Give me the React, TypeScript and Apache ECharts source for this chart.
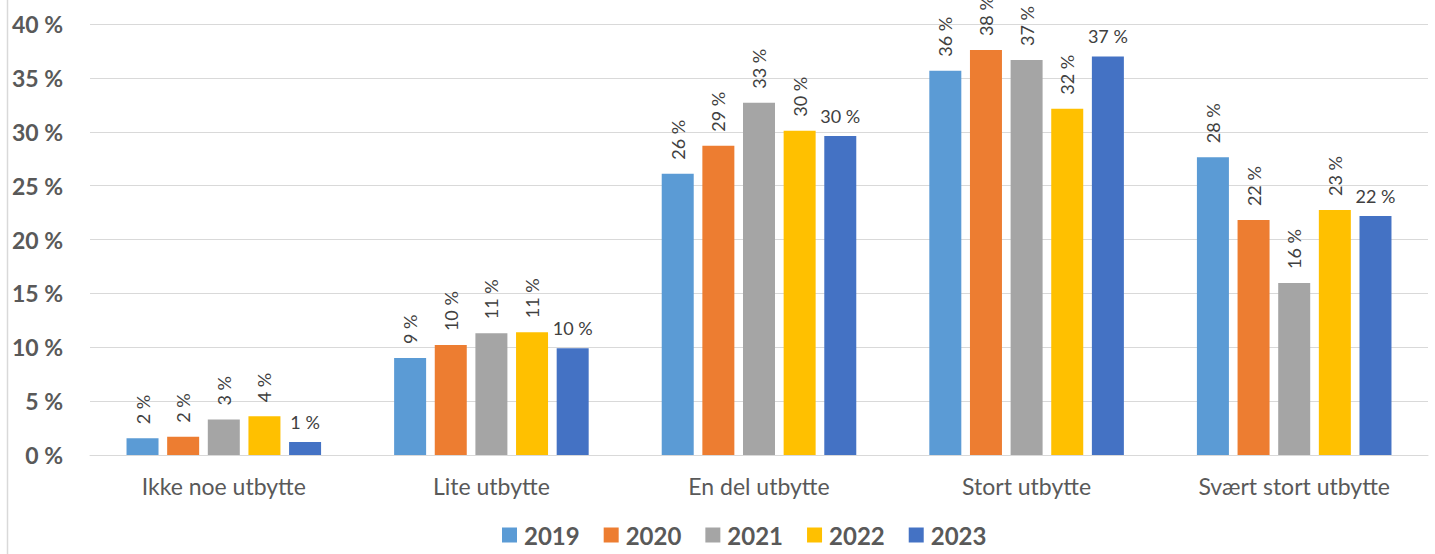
import React, { useEffect, useRef } from "react";
import * as echarts from "echarts";

const categories = ["Ikke noe utbytte", "Lite utbytte", "En del utbytte", "Stort utbytte", "Svært stort utbytte"];
const years = ["2019", "2020", "2021", "2022", "2023"];
const colors = ["#5B9BD5", "#ED7D31", "#A5A5A5", "#FFC000", "#4472C4"];
const values2019 = [1.55, 9.0, 26.1, 35.66, 27.64];
const values2020 = [1.7, 10.2, 28.7, 37.58, 21.8];
const values2021 = [3.3, 11.3, 32.7, 36.66, 15.97];
const values2022 = [3.6, 11.4, 30.1, 32.13, 22.74];
const values2023 = [1.2, 9.9, 29.6, 36.99, 22.18];
const yTicks = [0, 5, 10, 15, 20, 25, 30, 35, 40];

const seriesValues = [values2019, values2020, values2021, values2022, values2023];
const FONT = "Lato, 'Liberation Sans', sans-serif";

export default function App() {
  const ref = useRef<HTMLDivElement>(null);
  useEffect(() => {
    const chart = echarts.init(ref.current!, null, { renderer: "svg" });
    chart.setOption({
      animation: false,
      backgroundColor: "#ffffff",
      textStyle: { fontFamily: FONT },
      grid: { left: 90, right: 7, top: 24, bottom: 99, containLabel: false },
      legend: {
        bottom: 2,
        left: 497,
        itemWidth: 15,
        itemHeight: 15,
        itemGap: 24,
        icon: "rect",
        textStyle: { fontFamily: FONT, fontSize: 24, fontWeight: "bold", color: "#595959", padding: [0, 0, 0, 2] },
        data: years,
      },
      xAxis: {
        type: "category",
        data: categories,
        axisLine: { lineStyle: { color: "#D9D9D9", width: 1 } },
        axisTick: { show: false },
        axisLabel: { color: "#595959", fontSize: 23, fontFamily: FONT, margin: 19 },
      },
      yAxis: {
        type: "value",
        min: yTicks[0],
        max: yTicks[yTicks.length - 1],
        interval: 5,
        axisLine: { show: false },
        axisTick: { show: false },
        splitLine: { lineStyle: { color: "#D9D9D9", width: 1 } },
        axisLabel: {
          color: "#595959",
          fontSize: 23,
          fontWeight: "bold",
          fontFamily: FONT,
          margin: 27,
          formatter: (v: number) => `${v} %`,
        },
      },
      graphic: [
        {
          type: "line",
          shape: { x1: 7.5, y1: 0, x2: 7.5, y2: 554 },
          style: { stroke: "#D9D9D9", lineWidth: 1.5 },
        },
      ],
      series: years.map((y, i) => ({
        name: y,
        type: "bar",
        data: seriesValues[i],
        barWidth: 32,
        barGap: "27%",
        itemStyle: { color: colors[i] },
        label: i === 4
          ? {
              show: true,
              position: "top",
              distance: 11,
              color: "#404040",
              fontSize: 18,
              fontFamily: FONT,
              formatter: (p: any) => `${Math.round(p.value)} %`,
            }
          : {
              show: true,
              position: "top",
              distance: 14,
              rotate: 90,
              align: "left",
              verticalAlign: "middle",
              color: "#404040",
              fontSize: 18,
              fontFamily: FONT,
              formatter: (p: any) => `${Math.round(p.value)} %`,
            },
      })),
    });
    return () => chart.dispose();
  }, []);
  return <div ref={ref} style={{ position: "fixed", left: 0, top: 0, width: 1435, height: 554 }} />;
}
